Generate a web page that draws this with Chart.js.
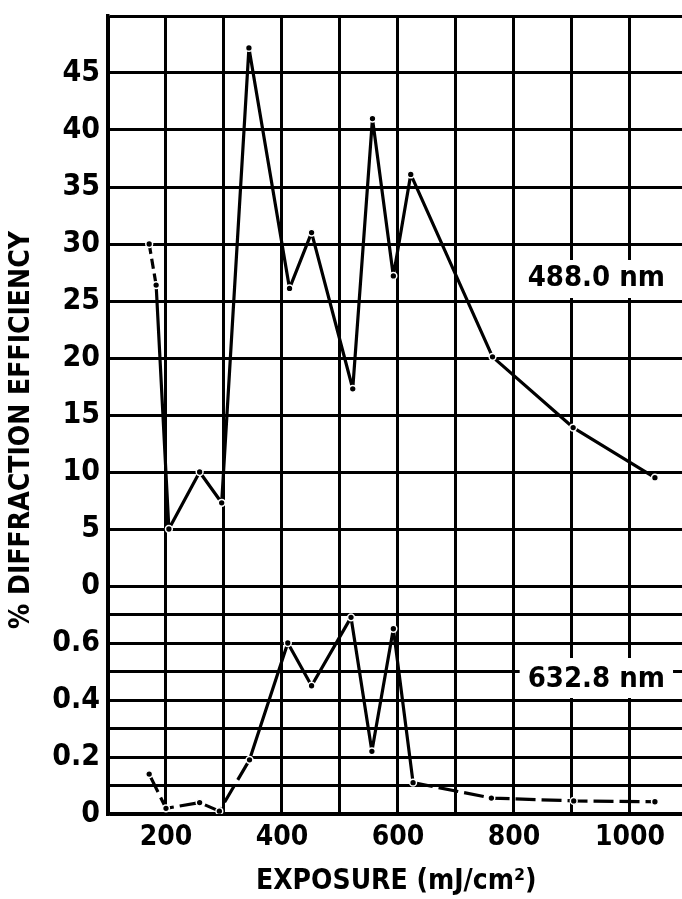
<!DOCTYPE html>
<html>
<head>
<meta charset="utf-8">
<script src="https://cdn.jsdelivr.net/npm/chart.js@4.4.1/dist/chart.umd.min.js"></script>
<style>
  html, body { margin: 0; padding: 0; background: #fff; overflow: hidden; }
  #wrap { width: 682px; height: 899px; position: relative; overflow: hidden; }
</style>
</head>
<body>
<div id="wrap"><canvas id="c" width="690" height="899"></canvas></div>
<script>
// ---- data ----
const exposure488 = [171, 183, 205, 258, 296, 343, 413, 451, 522, 556, 592, 622, 763, 902, 1043];
const eff488      = [30, 26.4, 5, 10, 7.3, 47.2, 26.1, 31, 17.3, 41, 27.2, 36.1, 20.1, 13.9, 9.5];

const exposure633 = [171, 200, 258, 292, 344, 410, 451, 519, 555, 592, 626, 761, 903, 1043];
const eff633      = [0.14, 0.02, 0.04, 0.01, 0.19, 0.6, 0.45, 0.69, 0.22, 0.65, 0.11, 0.056, 0.046, 0.043];

const xGridValues  = [100, 200, 300, 400, 500, 600, 700, 800, 900, 1000];
const xTickLabels  = [200, 400, 600, 800, 1000];
const yUpperGrid   = [0, 5, 10, 15, 20, 25, 30, 35, 40, 45, 50];
const yUpperLabels = [0, 5, 10, 15, 20, 25, 30, 35, 40, 45];
const yLowerGrid   = [0, 0.1, 0.2, 0.3, 0.4, 0.5, 0.6, 0.7, 0.8];
const yLowerLabels = [0, 0.2, 0.4, 0.6];

const seriesLabels = ['488.0 nm', '632.8 nm'];
const xTitle = 'EXPOSURE (mJ/cm\u00B2)';
const yTitle = '% DIFFRACTION EFFICIENCY';

const FONT = '"DejaVu Sans Condensed", "Liberation Sans Narrow", sans-serif';

const toPts = (xs, ys) => xs.map((x, i) => ({ x: x, y: ys[i] }));

const labelsPlugin = {
  id: 'labelsPlugin',
  afterDraw(chart) {
    const ctx = chart.ctx;
    const xs = chart.scales.x, yu = chart.scales.yUp, yl = chart.scales.yLow;
    ctx.save();
    const boxes = [
      { text: seriesLabels[0], x: xs.getPixelForValue(942), y: (yu.getPixelForValue(30) + yu.getPixelForValue(25)) / 2 + 6, y0: yu.getPixelForValue(30) + 16, y1: yu.getPixelForValue(25) - 3 },
      { text: seriesLabels[1], x: xs.getPixelForValue(942), y: yl.getPixelForValue(0.5) + 8, y0: yl.getPixelForValue(0.6) + 15, y1: yl.getPixelForValue(0.4) - 2 }
    ];
    ctx.font = 'bold 29px ' + FONT;
    ctx.textAlign = 'center';
    ctx.textBaseline = 'middle';
    boxes.forEach(b => {
      const w = ctx.measureText(b.text).width + 16;
      ctx.fillStyle = '#fff';
      ctx.fillRect(b.x - w / 2, b.y0, w, b.y1 - b.y0);
      ctx.fillStyle = '#000';
      ctx.fillText(b.text, b.x, b.y);
    });
    // y axis title
    ctx.translate(22, 430);
    ctx.rotate(-Math.PI / 2);
    ctx.font = 'bold 28px ' + FONT;
    ctx.fillText(yTitle, 0, 0);
    ctx.restore();
  }
};

const dashed633 = ctx => {
  const x0 = ctx.p0.parsed.x;
  return (x0 < 340 || x0 >= 620) ? [20, 6] : undefined;
};
const dashed488 = ctx => (ctx.p0.parsed.x < 180 ? [10, 5] : undefined);

const common = {
  borderColor: '#000',
  borderWidth: 3.2,
  borderJoinStyle: 'round',
  pointRadius: 3.4,
  pointBackgroundColor: '#000',
  pointBorderColor: '#fff',
  pointBorderWidth: 1.5,
  tension: 0
};

const fitY = s => { s.width = 108; s.paddingTop = 0; s.paddingBottom = 0; };

new Chart(document.getElementById('c'), {
  type: 'line',
  data: {
    datasets: [
      Object.assign({ label: seriesLabels[0], data: toPts(exposure488, eff488), yAxisID: 'yUp', segment: { borderDash: dashed488 } }, common),
      Object.assign({ label: seriesLabels[1], data: toPts(exposure633, eff633), yAxisID: 'yLow', segment: { borderDash: dashed633 } }, common)
    ]
  },
  options: {
    responsive: false,
    animation: false,
    devicePixelRatio: 1,
    layout: { padding: { left: 0, right: 0, top: 16, bottom: 0 } },
    plugins: { legend: { display: false }, tooltip: { enabled: false } },
    scales: {
      x: {
        type: 'linear',
        min: 100,
        max: 1094,
        afterBuildTicks: s => { s.ticks = xGridValues.map(v => ({ value: v })); },
        afterFit: s => { s.height = 85; },
        grid: { color: '#000', lineWidth: 3, drawTicks: false },
        border: { color: '#000', width: 3.5 },
        ticks: {
          color: '#000',
          font: { family: FONT, size: 28, weight: 'bold' },
          padding: 7,
          autoSkip: false,
          maxRotation: 0,
          callback: v => (xTickLabels.includes(v) ? String(v) : '')
        },
        title: {
          display: true,
          text: xTitle,
          color: '#000',
          font: { family: FONT, size: 28, weight: 'bold' },
          padding: { top: 0, bottom: 0 }
        }
      },
      yLow: {
        type: 'linear',
        position: 'left',
        stack: 'eff',
        stackWeight: 1,
        min: 0,
        max: 0.8,
        afterBuildTicks: s => { s.ticks = yLowerGrid.map(v => ({ value: v })); },
        afterFit: fitY,
        grid: { color: '#000', lineWidth: 3, drawTicks: false },
        border: { color: '#000', width: 3.5 },
        ticks: {
          color: '#000',
          font: { family: FONT, size: 30, weight: 'bold' },
          padding: 8,
          autoSkip: false,
          callback: v => {
            const m = yLowerLabels.find(l => Math.abs(l - v) < 1e-6);
            return m === undefined ? '' : String(m);
          }
        }
      },
      yUp: {
        type: 'linear',
        position: 'left',
        stack: 'eff',
        stackWeight: 2.5,
        min: 0,
        max: 50,
        afterBuildTicks: s => { s.ticks = yUpperGrid.map(v => ({ value: v })); },
        afterFit: fitY,
        grid: { color: '#000', lineWidth: 3, drawTicks: false },
        border: { color: '#000', width: 3.5 },
        ticks: {
          color: '#000',
          font: { family: FONT, size: 30, weight: 'bold' },
          padding: 8,
          autoSkip: false,
          callback: v => (yUpperLabels.includes(v) ? String(v) : '')
        }
      }
    }
  },
  plugins: [labelsPlugin]
});
</script>
</body>
</html>
